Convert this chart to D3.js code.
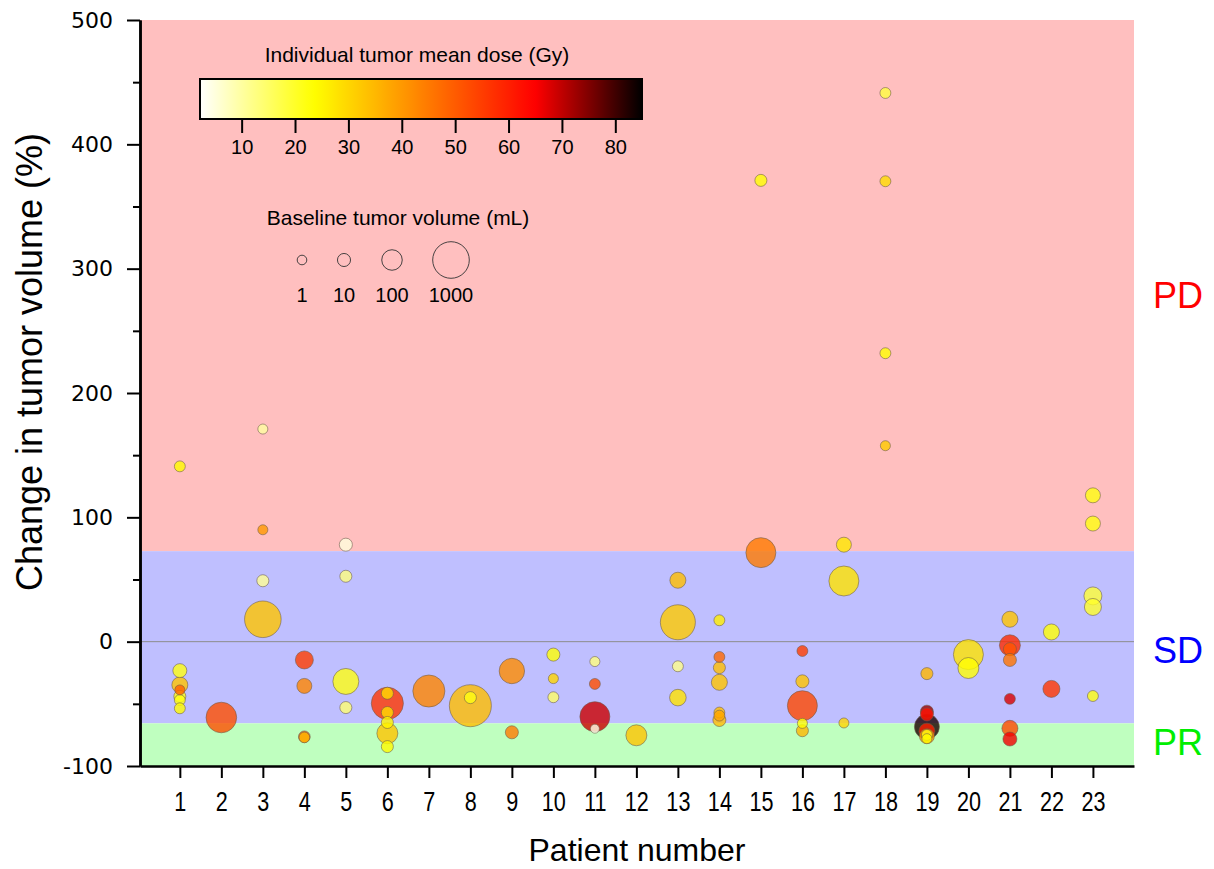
<!DOCTYPE html>
<html>
<head>
<meta charset="utf-8">
<script src="https://cdn.jsdelivr.net/npm/d3@7"></script>
<style>
  body { margin: 0; background: #fff; }
  svg { display: block; }
  text { font-family: "Liberation Sans", Arial, sans-serif; fill: #000; }
</style>
</head>
<body>
<svg width="1214" height="869"></svg>
<script>
// ---- data ----
var patient = [1,1,1,1,1,1,1, 2, 3,3,3,3, 4,4,4,4, 5,5,5,5, 6,6,6,6,6,6, 7, 8,8, 9,9, 10,10,10,
  11,11,11,11, 12, 13,13,13,13, 14,14,14,14,14,14,14, 15,15, 16,16,16,16,16, 17,17,17,
  18,18,18,18, 19,19,19,19,19,19,19,19, 20,20, 21,21,21,21,21,21,21, 22,22, 23,23,23,23,23];
var change = [141,-23.3,-34.8,-38.8,-44,-47,-53.6, -61, 171,90,49,18, -14.7,-35.6,-76.5,-77, 78,52.6,-32,-53,
  -49.6,-41.5,-57,-65,-73.7,-84.4, -39.7, -51.5,-45, -23.6,-72.9, -10.4,-29.7,-44.7,
  -16,-34,-60.3,-70, -75.3, 49.4,15.6,-19.8,-45, 17.2,-12.3,-20.9,-32.7,-57,-59.5,-63, 371,71.6,
  -7.5,-31.9,-51.5,-65.7,-71.6, 78,48.8,-65.4, 441.3,370.3,232,157.6,
  -25.7,-56.3,-58.5,-68.4,-72,-76,-75,-78, -10.4,-21.2, 18,-2.9,-6,-14.7,-46,-69.7,-78.3, 7.8,-38,
  117.7,95,36.8,27.9,-43.7];
var dose = [24,22,33,49,22,22,24, 52, 10,40,11,33, 55,43,50,35, 5,13,22,14, 56,29,29,25,33,24, 43, 34,22, 42,45, 23,30,15,
  13,52,69,4, 33, 34,32,12,28, 26,48,34,33,34,38,34, 23,45, 55,33,53,23,35, 27,28,30, 18,29,23,32,
  35,73,62,83,60,40,22,24, 28,23, 33,58,51,46,68,53,66, 23,56, 22,22,19,20,22];
var volume = [3,15,31,1.5,6,3,3, 512, 1.5,1.5,6,1000, 55,22,5,2.5, 10,6,270,6, 614,6,6,6,110,6, 614, 1650,6, 246,10, 10,1.5,3,
  1.5,3,475,0.5, 110, 31,850,3,37, 3,3,6,31,3,3,10, 6,475, 3,10,475,1.5,6, 22,475,1.5, 3,3,3,1.5,
  6,10,10,230,31,22,3,1.5, 475,110, 31,110,10,10,3,31,15, 31,42, 22,22,55,42,3];

var patients = d3.range(1, 24);
var yTicks = [-100, 0, 100, 200, 300, 400, 500];
var yMinor = [-50, 50, 150, 250, 350, 450];
var doseTicks = [10, 20, 30, 40, 50, 60, 70, 80];
var sizeLegend = [1, 10, 100, 1000];
var pdLimit = 72.8, prLimit = -65.7;

var svg = d3.select("svg");
var plotL = 140, plotR = 1134, plotT = 20, plotB = 766;

var x = d3.scaleLinear().domain([0.04, 23.99]).range([plotL, plotR]);
var y = d3.scaleLinear().domain([-100, 500]).range([plotB, plotT]);
var r = d3.scalePow().exponent(1 / 3).domain([0, 1000]).range([3.3, 18.3]);
var color = d3.scaleLinear()
  .domain([2.2, 23.4, 44, 65, 85])
  .range(["#ffffff", "#ffff00", "#ff8000", "#ff0000", "#000000"])
  .clamp(true);

// response bands
var bands = [
  {lo: pdLimit, hi: 500, fill: "#ffbfbf"},
  {lo: prLimit, hi: pdLimit, fill: "#bfbfff"},
  {lo: -100, hi: prLimit, fill: "#bfffbf"}
];
svg.append("g").selectAll("rect").data(bands).enter().append("rect")
  .attr("x", plotL).attr("width", plotR - plotL)
  .attr("y", d => y(d.hi)).attr("height", d => y(d.lo) - y(d.hi))
  .attr("fill", d => d.fill);

// zero line
svg.append("line")
  .attr("x1", plotL).attr("x2", plotR)
  .attr("y1", y(0)).attr("y2", y(0))
  .attr("stroke", "#8c8c8c").attr("stroke-width", 1);

// bubbles, big ones first so the small ones stay visible
var pts = patient.map((p, i) => ({p: p, c: change[i], d: dose[i], v: volume[i]}));
pts.sort((a, b) => b.v - a.v);
svg.append("g").selectAll("circle").data(pts).enter().append("circle")
  .attr("cx", d => x(d.p)).attr("cy", d => y(d.c))
  .attr("r", d => r(d.v))
  .attr("fill", d => color(d.d))
  .attr("fill-opacity", 0.8)
  .attr("stroke", "#6a5a4a").attr("stroke-opacity", 0.7)
  .attr("stroke-width", 0.8);

// axes
var yAxis = svg.append("g").attr("transform", "translate(" + plotL + ",0)")
  .call(d3.axisLeft(y).tickValues(yTicks).tickSize(13).tickPadding(14).tickSizeOuter(0)
    .tickFormat(d => String(d)));
yAxis.selectAll("text").style("font-family", "'DejaVu Sans', sans-serif").style("font-size", "22px");
svg.append("g").attr("transform", "translate(" + plotL + ",0)")
  .call(d3.axisLeft(y).tickValues(yMinor).tickSize(7).tickFormat("").tickSizeOuter(0));

var xAxis = svg.append("g").attr("transform", "translate(0," + plotB + ")")
  .call(d3.axisBottom(x).tickValues(patients).tickSize(12).tickPadding(14).tickSizeOuter(0));
// the reference uses a condensed face for the patient numbers
xAxis.selectAll("text")
  .style("font-size", "27px")
  .attr("transform", "scale(0.8,1)");

svg.selectAll(".domain").attr("stroke-width", 2.5);
svg.selectAll(".tick line").attr("stroke-width", 2);

// axis titles
svg.append("text")
  .attr("x", 637).attr("y", 861)
  .attr("text-anchor", "middle")
  .style("font-size", "32px")
  .text("Patient number");
svg.append("text")
  .attr("transform", "translate(42,362) rotate(-90)")
  .attr("text-anchor", "middle")
  .style("font-size", "36px")
  .text("Change in tumor volume (%)");

// response labels
var respLabels = [
  {t: "PD", v: 268, c: "#ff0000"},
  {t: "SD", v: -17, c: "#0000ff"},
  {t: "PR", v: -91, c: "#00ee00"}
];
svg.append("g").selectAll("text").data(respLabels).enter().append("text")
  .attr("x", 1153).attr("y", d => y(d.v))
  .style("font-size", "36px")
  .style("fill", d => d.c)
  .text(d => d.t);

// colour bar legend
var cb = d3.scaleLinear().domain([2.2, 85]).range([200, 642]);
var grad = svg.append("defs").append("linearGradient").attr("id", "doseGrad");
grad.selectAll("stop").data(d3.range(0, 1.0001, 0.02)).enter().append("stop")
  .attr("offset", d => d)
  .attr("stop-color", d => color(2.2 + d * (85 - 2.2)));
svg.append("text")
  .attr("x", 417).attr("y", 62)
  .attr("text-anchor", "middle")
  .style("font-size", "21px")
  .text("Individual tumor mean dose (Gy)");
svg.append("rect")
  .attr("x", 200).attr("y", 79).attr("width", 442).attr("height", 40)
  .attr("fill", "url(#doseGrad)")
  .attr("stroke", "#000").attr("stroke-width", 2);
var cbAxis = svg.append("g").attr("transform", "translate(0,119)")
  .call(d3.axisBottom(cb).tickValues(doseTicks).tickSize(14).tickPadding(7).tickSizeOuter(0));
cbAxis.select(".domain").remove();
cbAxis.selectAll(".tick line").attr("stroke-width", 2);
cbAxis.selectAll("text").style("font-size", "20px");

// bubble size legend
svg.append("text")
  .attr("x", 398).attr("y", 225)
  .attr("text-anchor", "middle")
  .style("font-size", "21px")
  .text("Baseline tumor volume (mL)");
var sizeX = [302, 344, 392, 451];
var sl = svg.append("g").selectAll("g").data(sizeLegend).enter().append("g")
  .attr("transform", (d, i) => "translate(" + sizeX[i] + ",0)");
sl.append("circle")
  .attr("cy", 260).attr("r", d => r(d))
  .attr("fill", "none").attr("stroke", "#333").attr("stroke-width", 0.9);
sl.append("text")
  .attr("y", 302).attr("text-anchor", "middle")
  .style("font-size", "20px")
  .text(d => d);
</script>
</body>
</html>
